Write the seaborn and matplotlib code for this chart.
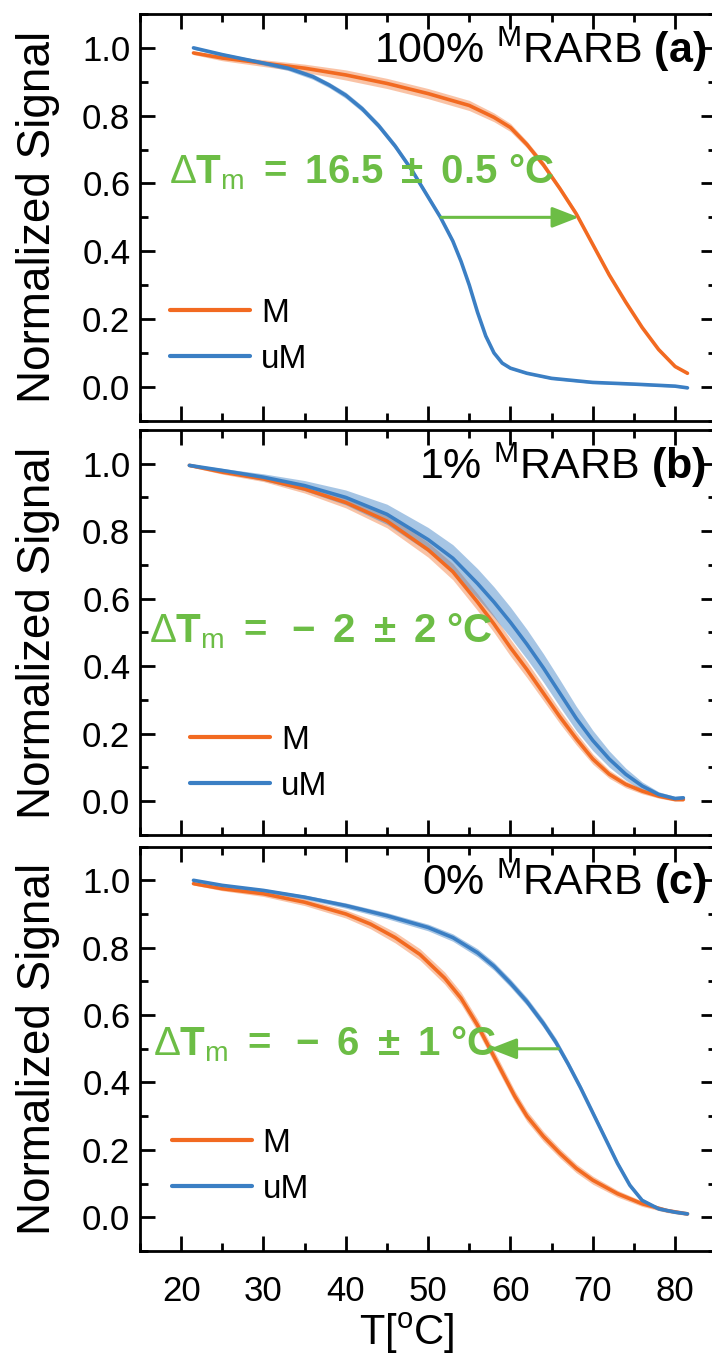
import numpy as np
import pandas as pd
import seaborn as sns
import matplotlib.pyplot as plt
from matplotlib.ticker import MultipleLocator

# ---- data (T in degC, normalized signal) ----
# (a) 100% methylated RARB
T_a_M = [21.5, 25, 30, 35, 40, 45, 50, 55, 58, 60, 62, 64, 66, 68, 70, 72, 74, 76, 78, 80, 81.5]
sig_a_M = [0.985, 0.97, 0.955, 0.94, 0.92, 0.895, 0.865, 0.83, 0.795, 0.765, 0.715, 0.655, 0.585,
           0.51, 0.42, 0.33, 0.25, 0.175, 0.11, 0.06, 0.04]
sd_a_M = [0.005, 0.008, 0.01, 0.012, 0.015, 0.015, 0.015, 0.015, 0.013, 0.012, 0.01, 0.01, 0.008,
          0.008, 0.006, 0.006, 0.005, 0.005, 0.004, 0.004, 0.004]
T_a_U = [21.5, 25, 30, 33, 36, 38, 40, 42, 44, 46, 48, 50, 51.5, 53, 54, 55, 56, 57, 58, 59, 60,
         62, 65, 70, 75, 80, 81.5]
sig_a_U = [1.0, 0.98, 0.955, 0.94, 0.915, 0.89, 0.86, 0.82, 0.77, 0.71, 0.64, 0.56, 0.50, 0.43,
           0.37, 0.30, 0.22, 0.15, 0.10, 0.07, 0.055, 0.04, 0.025, 0.013, 0.008, 0.002, -0.003]
sd_a_U = [0.004, 0.005, 0.006, 0.007, 0.008, 0.008, 0.009, 0.009, 0.009, 0.009, 0.008, 0.008,
          0.007, 0.007, 0.006, 0.006, 0.005, 0.005, 0.004, 0.004, 0.003, 0.003, 0.003, 0.003,
          0.003, 0.003, 0.003]

# (b) 1% methylated RARB
T_b = [21, 25, 30, 35, 40, 45, 50, 53, 56, 58, 60, 62, 64, 66, 68, 70, 72, 74, 76, 78, 80, 81]
sig_b_M = [0.995, 0.975, 0.955, 0.925, 0.885, 0.83, 0.745, 0.68, 0.59, 0.525, 0.455, 0.39,
           0.32, 0.25, 0.185, 0.125, 0.08, 0.05, 0.03, 0.015, 0.005, 0.005]
sd_b_M = [0.004, 0.006, 0.008, 0.012, 0.016, 0.02, 0.022, 0.024, 0.025, 0.025, 0.025, 0.024,
          0.022, 0.02, 0.018, 0.015, 0.012, 0.01, 0.008, 0.006, 0.005, 0.005]
sig_b_U = [0.995, 0.98, 0.96, 0.935, 0.9, 0.85, 0.775, 0.72, 0.645, 0.59, 0.53, 0.465, 0.395,
           0.32, 0.245, 0.18, 0.125, 0.08, 0.045, 0.02, 0.008, 0.01]
sd_b_U = [0.004, 0.006, 0.01, 0.015, 0.022, 0.03, 0.036, 0.04, 0.044, 0.045, 0.045, 0.044,
          0.042, 0.04, 0.036, 0.03, 0.024, 0.018, 0.012, 0.008, 0.006, 0.006]

# (c) 0% methylated RARB
T_c_M = [21.5, 25, 30, 35, 40, 43, 46, 49, 52, 54, 56, 57.5, 59, 60.5, 62, 64, 66, 68, 70, 73,
         76, 79, 81.5]
sig_c_M = [0.99, 0.975, 0.96, 0.935, 0.9, 0.87, 0.83, 0.78, 0.71, 0.65, 0.57, 0.50, 0.43, 0.36,
           0.30, 0.24, 0.19, 0.145, 0.11, 0.07, 0.04, 0.02, 0.01]
sd_c_M = [0.004, 0.006, 0.008, 0.01, 0.012, 0.014, 0.016, 0.017, 0.018, 0.018, 0.018, 0.018,
          0.018, 0.017, 0.016, 0.015, 0.014, 0.013, 0.012, 0.01, 0.008, 0.006, 0.005]
T_c_U = [21.5, 25, 30, 35, 40, 45, 50, 53, 56, 58, 60, 62, 64, 65.5, 67, 68.5, 70, 71.5, 73,
         74.5, 76, 78, 80, 81.5]
sig_c_U = [1.0, 0.985, 0.97, 0.95, 0.925, 0.895, 0.86, 0.83, 0.785, 0.745, 0.695, 0.64, 0.575,
           0.52, 0.455, 0.385, 0.31, 0.235, 0.16, 0.095, 0.05, 0.025, 0.015, 0.01]
sd_c_U = [0.003, 0.004, 0.005, 0.006, 0.008, 0.009, 0.01, 0.011, 0.012, 0.012, 0.012, 0.012,
          0.012, 0.012, 0.011, 0.01, 0.01, 0.009, 0.008, 0.007, 0.006, 0.005, 0.004, 0.004]

titles = [r"100% $^{\mathregular{M}}$RARB $\mathbf{(a)}$",
          r"1% $^{\mathregular{M}}$RARB $\mathbf{(b)}$",
          r"0% $^{\mathregular{M}}$RARB $\mathbf{(c)}$"]
delta_texts = [r"$\Delta\mathbf{T}_{m}\ \mathbf{=\ 16.5\ \pm\ 0.5\ °C}$",
               r"$\Delta\mathbf{T}_{m}\ \mathbf{=\ -\ 2\ \pm\ 2\ °C}$",
               r"$\Delta\mathbf{T}_{m}\ \mathbf{=\ -\ 6\ \pm\ 1\ °C}$"]
delta_pos = [(18.5, 0.60), (16.1, 0.47), (16.6, 0.48)]
arrows = [(51.6, 68.3), None, (65.8, 57.5)]   # tail, head at signal 0.5
legend_pos = [(0.052, 0.208), (0.087, 0.177), (0.055, 0.21)]

orange = '#F26A21'
blue = '#3B7FC4'
green = '#6CBD45'

sns.set_style('ticks')
plt.rcParams['font.family'] = ['Liberation Sans', 'DejaVu Sans']
plt.rcParams['mathtext.fontset'] = 'custom'
plt.rcParams['mathtext.rm'] = 'Liberation Sans'
plt.rcParams['mathtext.it'] = 'Liberation Sans'
plt.rcParams['mathtext.bf'] = 'Liberation Sans:bold'
plt.rcParams['mathtext.default'] = 'regular'
plt.rcParams['text.color'] = 'black'
plt.rcParams['axes.labelcolor'] = 'black'


def draw_panel(ax, TM, M, sdM, TU, U, sdU):
    TM, M, sdM = map(np.asarray, (TM, M, sdM))
    TU, U, sdU = map(np.asarray, (TU, U, sdU))
    ax.fill_between(TM, M - sdM, M + sdM, color=orange, alpha=0.4, lw=0)
    ax.fill_between(TU, U - sdU, U + sdU, color=blue, alpha=0.45, lw=0)
    df = pd.concat([pd.DataFrame({'T': TM, 'signal': M, 'sample': 'M'}),
                    pd.DataFrame({'T': TU, 'signal': U, 'sample': 'uM'})])
    sns.lineplot(data=df, x='T', y='signal', hue='sample', hue_order=['M', 'uM'],
                 palette={'M': orange, 'uM': blue}, lw=2.6, errorbar=None, ax=ax)


fig = plt.figure(figsize=(7.12, 13.55), dpi=100)
rects = [[0.1966, 0.6895, 0.8094, 0.3002],
         [0.1966, 0.3838, 0.8094, 0.2989],
         [0.1966, 0.0768, 0.8094, 0.2984]]
series = [(T_a_M, sig_a_M, sd_a_M, T_a_U, sig_a_U, sd_a_U),
          (T_b, sig_b_M, sd_b_M, T_b, sig_b_U, sd_b_U),
          (T_c_M, sig_c_M, sd_c_M, T_c_U, sig_c_U, sd_c_U)]

for i in range(3):
    ax = fig.add_axes(rects[i])
    draw_panel(ax, *series[i])
    ax.set_xlim(15, 85)
    ax.set_ylim(-0.1, 1.1)
    ax.xaxis.set_major_locator(MultipleLocator(10))
    ax.xaxis.set_minor_locator(MultipleLocator(5))
    ax.yaxis.set_major_locator(MultipleLocator(0.2))
    ax.yaxis.set_minor_locator(MultipleLocator(0.1))
    ax.yaxis.set_major_formatter(plt.FormatStrFormatter('%.1f'))
    ax.tick_params(which='both', direction='in', top=True, right=True, width=2,
                   labelsize=25, colors='black')
    ax.tick_params(which='major', length=11)
    ax.tick_params(which='minor', length=6)
    ax.tick_params(axis='y', pad=7)
    ax.tick_params(axis='x', pad=17)
    for s in ax.spines.values():
        s.set_linewidth(2)
        s.set_color('black')
    ax.set_ylabel('Normalized Signal', fontsize=33)
    ax.yaxis.set_label_coords(-0.139, 0.5)
    if i < 2:
        ax.tick_params(labelbottom=False)
        ax.set_xlabel('')
    else:
        ax.set_xlabel(r"T[$^{\mathregular{o}}$C]", fontsize=30)
        ax.xaxis.set_label_coords(0.463, -0.148)

    ax.text(83.8, 0.955, titles[i], ha='right', va='baseline', fontsize=31)
    ax.text(delta_pos[i][0], delta_pos[i][1], delta_texts[i], ha='left', va='baseline',
            fontsize=29, color=green)
    if arrows[i] is not None:
        ax.annotate('', xy=(arrows[i][1], 0.5), xytext=(arrows[i][0], 0.5),
                    arrowprops=dict(arrowstyle='-|>,head_length=0.9,head_width=0.35',
                                    color=green, lw=2.2, mutation_scale=18,
                                    shrinkA=0, shrinkB=0))

    handles, labels = ax.get_legend_handles_labels()
    leg = ax.legend(handles, labels, loc='center left', bbox_to_anchor=legend_pos[i],
                    frameon=False, fontsize=24, handlelength=2.4, handletextpad=0.33,
                    labelspacing=0.45, borderpad=0, borderaxespad=0)
    for line in leg.get_lines():
        line.set_linewidth(3)

fig.savefig('out.png', dpi=100)
